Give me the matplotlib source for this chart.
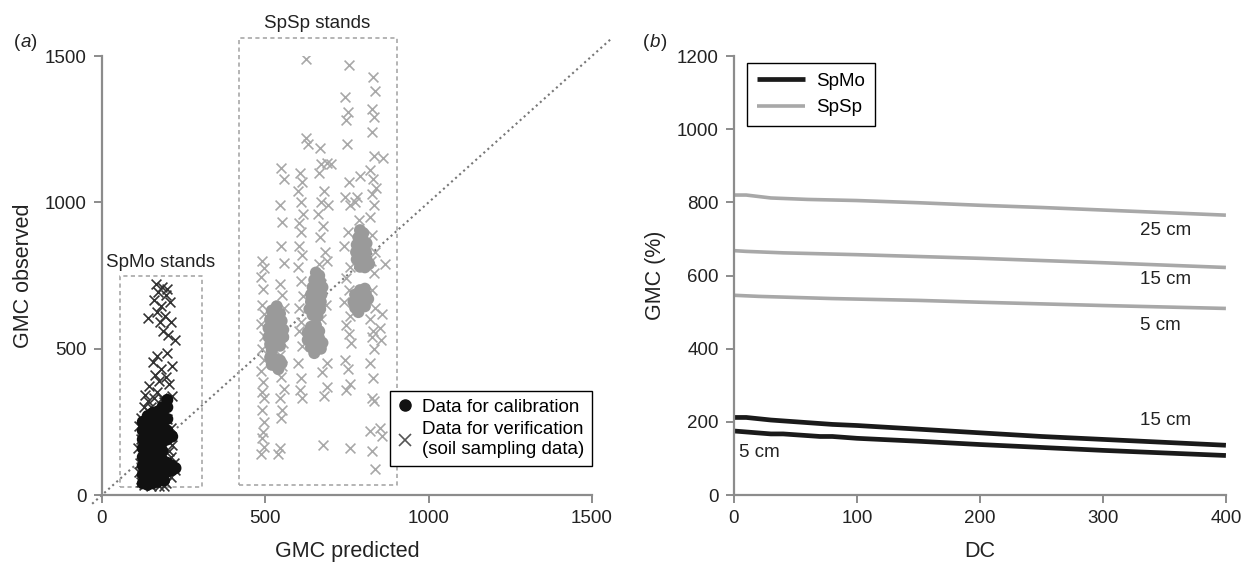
import matplotlib
matplotlib.use("Agg")
import matplotlib.pyplot as plt
from matplotlib.lines import Line2D

plt.rcParams['font.family'] = ['Liberation Sans', 'DejaVu Sans']

# ---- panel (a): observed vs predicted GMC ----
spmo_cal_x = [125, 125, 125, 125, 125, 125, 125, 125,
              140, 140, 140, 140, 140, 140, 140, 140, 140,
              155, 155, 155, 155, 155, 155, 155, 155, 155,
              170, 170, 170, 170, 170, 170, 170, 170, 170,
              185, 185, 185, 185, 185, 185, 185, 185, 185,
              200, 200, 200, 200, 200, 200, 200, 215, 215, 215, 225, 190]
spmo_cal_y = [40, 70, 100, 130, 160, 190, 220, 250,
              35, 60, 90, 120, 150, 180, 210, 240, 270,
              40, 70, 100, 130, 160, 190, 220, 250, 280,
              45, 75, 105, 135, 165, 195, 225, 255, 285,
              60, 90, 120, 150, 180, 210, 240, 270, 300,
              80, 110, 190, 220, 260, 300, 325, 85, 100, 200, 92, 50]

spmo_ver_x = [165, 185, 200, 172, 195, 160, 208, 182, 168, 140, 192, 178, 212, 188, 203, 225,
              168, 200, 155, 182, 215, 162, 196, 176, 145, 205, 133, 170, 215, 190, 128, 145,
              120, 112, 125, 118, 110, 122, 115, 112, 120, 130, 150, 175, 195, 210, 225, 220,
              210, 215, 205, 210, 200, 130, 150, 160, 140, 185, 118, 190]
spmo_ver_y = [720, 712, 705, 695, 685, 665, 660, 645, 625, 605, 612, 590, 592, 560, 548, 530,
              475, 485, 455, 432, 440, 410, 402, 388, 372, 380, 342, 352, 340, 318, 300, 282,
              262, 235, 215, 190, 160, 140, 110, 80, 55, 35, 30, 32, 40, 60, 85, 110,
              130, 170, 150, 230, 260, 245, 300, 330, 320, 330, 45, 30]

spsp_cal_x = [520, 535, 545, 515, 530, 550, 510, 525, 540, 555, 510, 525, 540, 555, 515, 530, 545, 520,
              515, 530, 545, 520, 535, 550, 540,
              655, 665, 650, 668, 645, 660, 675, 640, 655, 672, 640, 655, 670, 635, 650, 668, 645, 660,
              640, 655, 630, 648, 665, 630, 648, 665, 675, 640, 655, 670, 650,
              790, 800, 785, 800, 780, 795, 810, 778, 792, 808, 780, 795, 810, 790, 805, 818,
              790, 805, 775, 790, 808, 770, 785, 800, 815, 775, 790, 805, 785]
spsp_cal_y = [630, 645, 620, 600, 600, 595, 570, 570, 575, 565, 540, 540, 545, 540, 515, 515, 510, 495,
              470, 465, 460, 445, 440, 450, 430,
              760, 750, 735, 730, 710, 705, 710, 685, 680, 685, 660, 655, 660, 635, 630, 635, 615, 612,
              575, 580, 555, 555, 560, 530, 530, 535, 520, 505, 505, 500, 485,
              905, 895, 880, 870, 855, 850, 860, 830, 825, 830, 805, 800, 805, 780, 778, 790,
              700, 705, 685, 680, 685, 660, 660, 662, 670, 640, 640, 645, 625]

spsp_ver_x = [490, 495, 488, 493, 490, 497, 488, 495, 490, 497, 488, 493, 490, 495, 490, 497, 493, 490, 495, 488,
              545, 552, 548, 556, 545, 552, 558, 548, 555, 545, 552, 548, 556, 545, 552, 548, 545, 540, 548, 556,
              605, 612, 600, 608, 615, 602, 610, 604, 612, 600, 608, 615, 602, 610, 604, 612, 600, 608, 605, 612,
              625, 632, 625,
              668, 672, 690, 665, 680, 670, 692, 662, 678, 668, 684, 665, 690, 672, 660, 685, 670, 688, 675, 690,
              680, 678, 700,
              755, 745, 752, 748, 750, 756, 745, 760, 752, 742, 758, 748, 755, 742, 758, 748, 755, 762, 745, 752,
              760, 748, 760,
              790, 780, 788, 775,
              830, 835, 828, 832, 826, 834, 822, 830, 838, 826, 834, 820, 828, 836, 824, 832, 826, 836, 822, 830,
              826, 834, 822, 830, 826, 834, 820, 828, 835,
              860, 868, 858, 850, 855, 852, 858]
spsp_ver_y = [800, 775, 745, 705, 650, 620, 585, 545, 500, 462, 425, 385, 352, 330, 292, 250, 215, 195, 165, 140,
              990, 932, 852, 792, 722, 683, 640, 562, 520, 480, 442, 402, 362, 332, 290, 262, 160, 140, 1116, 1080,
              1100, 1070, 1040, 1000, 960, 930, 900, 850, 820, 780, 730, 680, 640, 590, 560, 510, 450, 400, 360, 330,
              1220, 1200, 1490,
              1185, 1130, 1135, 1100, 1040, 1000, 990, 960, 920, 880, 830, 790, 800, 720, 680, 650, 600, 450, 420, 370,
              340, 170, 1130,
              1470, 1360, 1310, 1280, 1200, 1070, 1020, 990, 900, 850, 780, 740, 700, 660, 610, 580, 550, 520, 460, 430,
              380, 360, 160,
              1090, 1020, 940, 1000,
              1430, 1380, 1320, 1290, 1240, 1160, 1110, 1080, 1050, 1030, 990, 950, 890, 830, 800, 760, 700, 640, 600, 560,
              540, 500, 450, 400, 330, 320, 220, 150, 90,
              1150, 790, 620, 570, 530, 230, 200]

# ---- panel (b): GMC vs DC ----
spsp25_dc = [0, 10, 30, 60, 100, 150, 200, 250, 300, 350, 400]
spsp25_gmc = [820, 820, 812, 808, 805, 799, 792, 786, 779, 772, 765]
spsp15_dc = [0, 10, 40, 100, 200, 300, 400]
spsp15_gmc = [668, 666, 662, 657, 647, 635, 622]
spsp5_dc = [0, 20, 80, 150, 200, 300, 400]
spsp5_gmc = [546, 543, 537, 532, 527, 518, 510]
spmo15_dc = [0, 10, 30, 80, 100, 150, 200, 250, 300, 350, 400]
spmo15_gmc = [212, 212, 205, 193, 190, 180, 170, 160, 152, 144, 136]
spmo5_dc = [0, 30, 40, 70, 80, 100, 150, 200, 250, 300, 350, 400]
spmo5_gmc = [175, 167, 167, 160, 160, 155, 147, 138, 130, 122, 115, 108]

spine_col = '#8c8c8c'
txt_col = '#222222'
fs = 13.5
lfs = 15.5

fig = plt.figure(figsize=(12.48, 5.62), dpi=100)
ax1 = fig.add_axes([0.0817, 0.1192, 0.3926, 0.7811])
ax2 = fig.add_axes([0.5881, 0.1192, 0.3942, 0.7811])

for ax in (ax1, ax2):
    for s in ('top', 'right'):
        ax.spines[s].set_visible(False)
    for s in ('left', 'bottom'):
        ax.spines[s].set_color(spine_col)
        ax.spines[s].set_linewidth(1.6)
    ax.tick_params(direction='out', length=6, width=1.4, color=spine_col,
                   labelsize=fs, labelcolor=txt_col, pad=5)

# panel a
ax1.set_xlim(0, 1500)
ax1.set_ylim(0, 1500)
ax1.set_xticks([0, 500, 1000, 1500])
ax1.set_yticks([0, 500, 1000, 1500])
ax1.plot([-30, 1560], [-30, 1560], ls=(0, (1, 1.6)), color='#777777', lw=1.5, clip_on=False, zorder=1)

box_kw = dict(ls=(0, (2.5, 2)), color='#a8a8a8', lw=1.2, clip_on=False, zorder=1)
ax1.plot([56, 305, 305, 56, 56], [28, 28, 748, 748, 28], **box_kw)
ax1.plot([419, 902, 902, 419, 419], [34, 34, 1560, 1560, 34], **box_kw)
ax1.text(180, 795, 'SpMo stands', ha='center', va='center', fontsize=fs, color=txt_col)
ax1.text(660, 1610, 'SpSp stands', ha='center', va='center', fontsize=fs, color=txt_col, clip_on=False)

ax1.scatter(spmo_ver_x, spmo_ver_y, marker='x', s=50, color='#333333', linewidths=1.2, zorder=2)
ax1.scatter(spsp_ver_x, spsp_ver_y, marker='x', s=50, color='#a8a8a8', linewidths=1.2, zorder=2)
ax1.scatter(spmo_cal_x, spmo_cal_y, marker='o', s=75, color='#111111', edgecolors='none', zorder=3)
ax1.scatter(spsp_cal_x, spsp_cal_y, marker='o', s=75, color='#9a9a9a', edgecolors='none', zorder=3)

ax1.set_xlabel('GMC predicted', fontsize=lfs, color=txt_col, labelpad=10)
ax1.set_ylabel('GMC observed', fontsize=lfs, color=txt_col, labelpad=8)

h1 = [Line2D([], [], marker='o', ls='none', color='#111111', markersize=8),
      Line2D([], [], marker='x', ls='none', color='#555555', markersize=8, markeredgewidth=1.2)]
leg1 = ax1.legend(h1, ['Data for calibration', 'Data for verification\n(soil sampling data)'],
                  loc='lower right', bbox_to_anchor=(1.0, 0.067), borderaxespad=0,
                  fontsize=fs, frameon=True, fancybox=False, framealpha=1,
                  handlelength=0.8, handletextpad=0.5, borderpad=0.4, labelspacing=0.3)
leg1.get_frame().set_edgecolor('black')
leg1.get_frame().set_linewidth(1.0)

# panel b
ax2.set_xlim(0, 400)
ax2.set_ylim(0, 1200)
ax2.set_xticks([0, 100, 200, 300, 400])
ax2.set_yticks([0, 200, 400, 600, 800, 1000, 1200])
c_mo = '#1a1a1a'
c_sp = '#a8a8a8'
ax2.plot(spmo15_dc, spmo15_gmc, color=c_mo, lw=3.4, label='SpMo', solid_capstyle='butt')
ax2.plot(spmo5_dc, spmo5_gmc, color=c_mo, lw=3.4, solid_capstyle='butt')
ax2.plot(spsp25_dc, spsp25_gmc, color=c_sp, lw=2.6, label='SpSp', solid_capstyle='butt')
ax2.plot(spsp15_dc, spsp15_gmc, color=c_sp, lw=2.6, solid_capstyle='butt')
ax2.plot(spsp5_dc, spsp5_gmc, color=c_sp, lw=2.6, solid_capstyle='butt')

lab_kw = dict(fontsize=fs, color=txt_col, va='center')
ax2.text(330, 724, '25 cm', **lab_kw)
ax2.text(330, 589, '15 cm', **lab_kw)
ax2.text(330, 464, '5 cm', **lab_kw)
ax2.text(330, 205, '15 cm', **lab_kw)
ax2.text(4, 116, '5 cm', **lab_kw)

ax2.set_xlabel('DC', fontsize=lfs, color=txt_col, labelpad=10)
ax2.set_ylabel('GMC (%)', fontsize=lfs, color=txt_col, labelpad=8)
leg2 = ax2.legend(loc='upper left', bbox_to_anchor=(0.027, 0.983), borderaxespad=0,
                  fontsize=fs, frameon=True, fancybox=False, framealpha=1,
                  handlelength=2.6, handletextpad=0.6, borderpad=0.5, labelspacing=0.5)
leg2.get_frame().set_edgecolor('black')
leg2.get_frame().set_linewidth(1.0)

# panel letters
fig.text(0.011, 0.917, '(', fontsize=fs, color=txt_col)
fig.text(0.0165, 0.917, 'a', fontsize=fs, color=txt_col, style='italic')
fig.text(0.0245, 0.917, ')', fontsize=fs, color=txt_col)
fig.text(0.5155, 0.917, '(', fontsize=fs, color=txt_col)
fig.text(0.521, 0.917, 'b', fontsize=fs, color=txt_col, style='italic')
fig.text(0.5295, 0.917, ')', fontsize=fs, color=txt_col)

fig.savefig('out.png', dpi=100, facecolor='white')
